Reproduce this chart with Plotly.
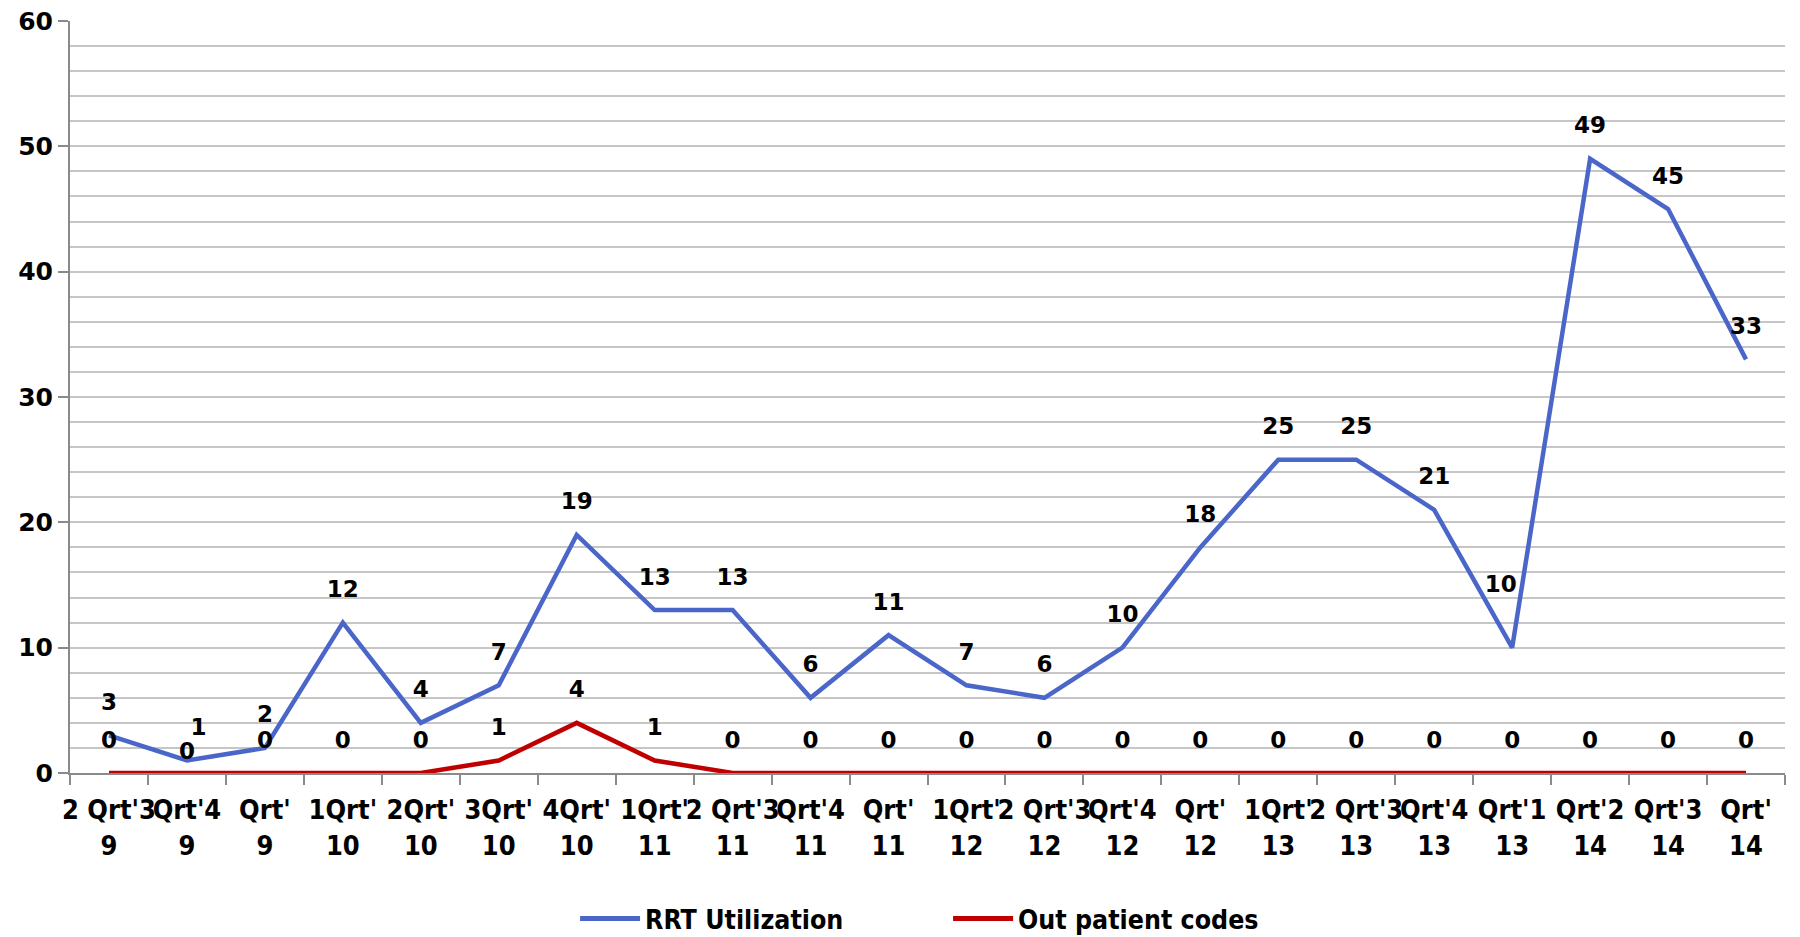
import plotly.graph_objects as go

# quarters Q2'09 .. Q3'14
quarters = ["Q2'09", "Q3'09", "Q4'09",
            "Q1'10", "Q2'10", "Q3'10", "Q4'10",
            "Q1'11", "Q2'11", "Q3'11", "Q4'11",
            "Q1'12", "Q2'12", "Q3'12", "Q4'12",
            "Q1'13", "Q2'13", "Q3'13", "Q4'13",
            "Q1'14", "Q2'14", "Q3'14"]

# tick text as it is wrapped in the original chart
tick_line1 = ["2 Qrt'3", "Qrt'4", "Qrt'", "1Qrt'", "2Qrt'", "3Qrt'", "4Qrt'",
              "1Qrt'", "2 Qrt'3", "Qrt'4", "Qrt'", "1Qrt'", "2 Qrt'3", "Qrt'4", "Qrt'",
              "1Qrt'", "2 Qrt'3", "Qrt'4", "Qrt'1", "Qrt'2", "Qrt'3", "Qrt'"]
tick_line2 = ["9", "9", "9", "10", "10", "10", "10", "11", "11", "11", "11",
              "12", "12", "12", "12", "13", "13", "13", "13", "14", "14", "14"]

rrt_utilization = [3, 1, 2, 12, 4, 7, 19, 13, 13, 6, 11, 7, 6, 10, 18, 25, 25, 21, 10, 49, 45, 33]
outpatient_codes = [0, 0, 0, 0, 0, 1, 4, 1, 0, 0, 0, 0, 0, 0, 0, 0, 0, 0, 0, 0, 0, 0]

BLUE = "#4A66C9"
RED = "#C00000"
GRID = "#C6C6C6"
AXIS = "#8A8A8A"
label_font = dict(family="DejaVu Sans", size=23, color="black", weight="bold")

# value labels; a couple nudged like the original to dodge neighbours
blue_text = [str(v) for v in rrt_utilization]
blue_text[1] = "\u2002\u2002" + blue_text[1]
blue_text[18] = blue_text[18] + "\u2002\u2002<br> "

# invisible marker sizes set how far each label sits above the line
red_gap = [30] * len(quarters)
red_gap[1] = 12

fig = go.Figure()
fig.add_trace(go.Scatter(
    x=quarters, y=rrt_utilization, name="RRT Utilization",
    mode="lines+markers+text",
    line=dict(color=BLUE, width=4.5),
    marker=dict(size=30, color="rgba(0,0,0,0)", line=dict(width=0)),
    text=blue_text, textposition="top center",
    textfont=label_font, cliponaxis=False,
))
fig.add_trace(go.Scatter(
    x=quarters, y=outpatient_codes, name="Out patient codes",
    mode="lines+markers+text",
    line=dict(color=RED, width=4.5),
    marker=dict(size=red_gap, color="rgba(0,0,0,0)", line=dict(width=0)),
    text=[str(v) for v in outpatient_codes], textposition="top center",
    textfont=label_font, cliponaxis=False,
))

# page body has an 8px margin, so the figure is 8px smaller than the window
fig.update_layout(
    width=1792, height=929,
    margin=dict(l=62, r=15, t=13, b=164, autoexpand=False),
    plot_bgcolor="white", paper_bgcolor="white",
    font=dict(family="DejaVu Sans", color="black"),
    showlegend=True,
    legend=dict(orientation="h", x=0.512, xanchor="center", y=-0.194, yanchor="middle",
                font=dict(family="DejaVu Sans Condensed", size=26.5, color="black", weight="bold"),
                entrywidth=298, itemwidth=60, itemsizing="constant"),
)
fig.update_xaxes(
    type="category", range=[-0.5, len(quarters) - 0.5], automargin=False,
    tickmode="array", tickvals=quarters, tickangle=0, ticklabelstandoff=12,
    ticktext=[a + "<br>" + b for a, b in zip(tick_line1, tick_line2)],
    tickson="boundaries", ticks="outside", ticklen=10, tickcolor=AXIS, tickwidth=2,
    showgrid=False, showline=True, linecolor=AXIS, linewidth=2,
    tickfont=dict(family="DejaVu Sans Condensed", size=27, color="black", weight="bold"),
)
fig.update_yaxes(
    range=[0, 60], dtick=10, automargin=False, ticklabeloverflow="allow",
    ticks="outside", ticklen=10, tickcolor=AXIS, tickwidth=2,
    showgrid=True, gridcolor=GRID, gridwidth=2,
    minor=dict(dtick=2, showgrid=True, gridcolor=GRID, gridwidth=2),
    showline=True, linecolor=AXIS, linewidth=2, zeroline=False,
    tickfont=dict(family="DejaVu Sans", size=25, color="black", weight="bold"),
)

fig.write_html("out.html")
